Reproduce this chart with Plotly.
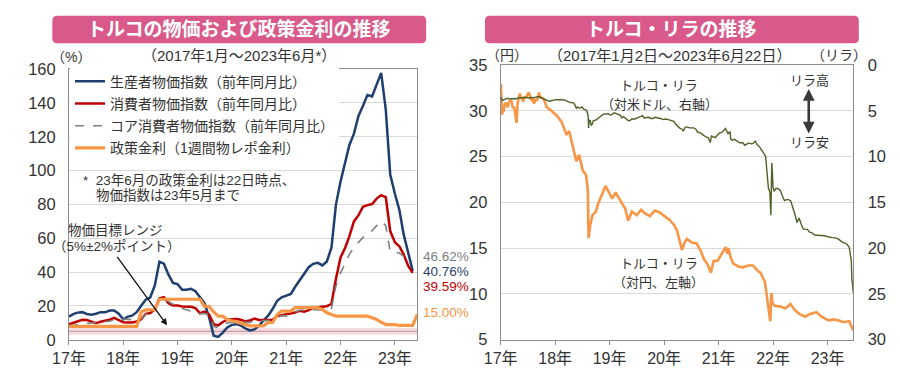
import plotly.graph_objects as go
import pandas as pd

# ---------------- data: left chart (monthly, % YoY) ----------------
months_idx = pd.date_range("2017-01-01", periods=77, freq="MS")   # 2017-01 .. 2023-05
months_rate = pd.date_range("2017-01-01", periods=78, freq="MS")  # 2017-01 .. 2023-06

ppi = [13.69, 15.36, 16.09, 16.37, 15.26, 14.87, 15.45, 16.34, 16.28, 17.28, 17.30, 15.47,
       12.14, 13.71, 14.28, 16.37, 20.16, 23.71, 25.00, 32.13, 46.15, 45.01, 38.54, 33.64,
       32.93, 29.63, 29.64, 30.12, 28.71, 25.04, 21.66, 13.45, 2.45, 1.70, 4.26, 7.36,
       8.84, 9.26, 8.50, 6.71, 5.53, 6.17, 8.33, 11.53, 14.33, 18.20, 23.11, 25.15,
       26.16, 27.09, 31.20, 35.17, 38.33, 42.89, 44.92, 45.52, 43.96, 46.31, 54.62, 79.89,
       93.53, 105.01, 114.97, 121.82, 132.16, 138.31, 144.61, 143.75, 151.50, 157.69, 136.02, 97.72,
       86.46, 76.61, 62.45, 52.11, 40.76]

cpi = [9.22, 10.13, 11.29, 11.87, 11.72, 10.90, 9.79, 10.68, 11.20, 11.90, 12.98, 11.92,
       10.35, 10.26, 10.23, 10.85, 12.15, 15.39, 15.85, 17.90, 24.52, 25.24, 21.62, 20.30,
       20.35, 19.67, 19.71, 19.50, 18.71, 15.72, 16.65, 15.01, 9.26, 8.55, 10.56, 11.84,
       12.15, 12.37, 11.86, 10.94, 11.39, 12.62, 11.76, 11.77, 11.75, 11.89, 14.03, 14.60,
       14.97, 15.61, 16.19, 17.14, 16.59, 17.53, 18.95, 19.25, 19.58, 19.89, 21.31, 36.08,
       48.69, 54.44, 61.14, 69.97, 73.50, 78.62, 79.60, 80.21, 83.45, 85.51, 84.39, 64.27,
       57.68, 55.18, 50.51, 43.68, 39.59]

core = [8.1, 8.8, 9.1, 9.4, 9.7, 9.9, 10.3, 10.5, 10.8, 11.0, 12.1, 12.3,
        12.3, 12.1, 11.9, 12.2, 12.6, 15.0, 15.9, 17.9, 24.1, 24.3, 22.6, 20.7,
        19.4, 18.5, 17.8, 16.9, 16.1, 15.5, 15.6, 14.9, 7.9, 7.3, 8.9, 9.9,
        10.4, 10.9, 10.5, 10.2, 10.3, 11.2, 11.2, 11.2, 11.5, 11.7, 13.0, 14.4,
        14.0, 15.1, 16.4, 17.5, 17.6, 17.5, 17.9, 17.6, 17.9, 18.3, 18.6, 31.9,
        39.5, 45.0, 50.5, 54.5, 57.5, 60.5, 62.5, 64.5, 67.5, 70.2, 67.5, 52.0,
        51.6, 51.3, 49.3, 47.6, 46.62]

policy = [8, 8, 8, 8, 8, 8, 8, 8, 8, 8, 8, 8,
          8, 8, 8, 8, 16.5, 17.75, 17.75, 17.75, 24, 24, 24, 24,
          24, 24, 24, 24, 24, 24, 19.75, 19.75, 16.5, 14, 14, 12,
          11.25, 10.75, 9.75, 8.75, 8.25, 8.25, 8.25, 8.25, 10.25, 10.25, 15, 17,
          17, 17, 19, 19, 19, 19, 19, 19, 18, 16, 15, 14,
          14, 14, 14, 14, 14, 14, 14, 13, 12, 10.5, 9, 9,
          9, 8.5, 8.5, 8.5, 8.5, 15]

target_low, target_mid, target_high = 3, 5, 7
year_ticks = ["2017-01-01", "2018-01-01", "2019-01-01", "2020-01-01",
              "2021-01-01", "2022-01-01", "2023-01-01"]
year_labels = ["17年", "18年", "19年", "20年", "21年", "22年", "23年"]

# ---------------- data: right chart (TRY/JPY left axis, USD/TRY right axis) ----------------
jpy_dates = ["2017-01-02", "2017-01-06", "2017-01-11", "2017-01-16", "2017-01-20", "2017-01-27",
             "2017-02-03", "2017-02-10", "2017-02-17", "2017-02-24", "2017-03-03", "2017-03-10",
             "2017-03-17", "2017-03-24", "2017-03-31", "2017-04-07", "2017-04-14", "2017-04-18",
             "2017-04-24", "2017-05-01", "2017-05-10", "2017-05-17", "2017-05-24", "2017-06-01",
             "2017-06-09", "2017-06-16", "2017-06-23", "2017-06-30", "2017-07-07", "2017-07-14",
             "2017-07-21", "2017-07-28", "2017-08-04", "2017-08-11", "2017-08-18", "2017-08-25",
             "2017-09-01", "2017-09-08", "2017-09-15", "2017-09-22", "2017-09-29", "2017-10-16",
             "2017-11-06", "2017-12-08", "2018-01-11", "2018-02-13", "2018-03-18", "2018-04-05",
             "2018-05-01", "2018-05-23", "2018-06-10", "2018-07-05", "2018-07-27", "2018-08-08",
             "2018-08-13", "2018-08-24", "2018-09-08", "2018-10-01", "2018-10-19", "2018-11-13",
             "2018-12-05", "2018-12-24", "2019-01-19", "2019-02-10", "2019-02-28", "2019-03-26",
             "2019-04-16", "2019-05-05", "2019-05-30", "2019-07-02", "2019-07-31", "2019-08-26",
             "2019-09-28", "2019-10-31", "2019-12-03", "2020-01-04", "2020-02-06", "2020-03-10",
             "2020-03-28", "2020-04-30", "2020-05-18", "2020-06-02", "2020-07-05", "2020-08-07",
             "2020-09-05", "2020-09-24", "2020-10-19", "2020-11-10", "2020-11-28", "2020-12-24",
             "2021-01-19", "2021-02-17", "2021-02-28", "2021-03-07", "2021-03-22", "2021-04-09",
             "2021-05-12", "2021-06-14", "2021-07-17", "2021-08-19", "2021-09-21", "2021-10-09",
             "2021-11-07", "2021-11-25", "2021-12-13", "2021-12-20", "2021-12-28", "2022-01-11",
             "2022-02-21", "2022-03-25", "2022-04-27", "2022-05-23", "2022-06-25", "2022-08-04",
             "2022-09-06", "2022-10-19", "2022-11-21", "2023-01-08", "2023-02-10", "2023-03-14",
             "2023-04-16", "2023-05-26", "2023-06-07", "2023-06-22"]
try_jpy = [33.0, 32.0, 29.6, 30.3, 29.9, 30.6,
           30.9, 30.7, 30.4, 30.9, 31.2, 31.3,
           30.9, 30.3, 30.5, 29.9, 29.2, 28.7,
           30.8, 31.4, 31.9, 31.3, 31.5, 31.0,
           31.6, 31.4, 31.6, 31.9, 32.0, 31.8,
           31.3, 31.2, 31.4, 30.8, 31.2, 31.3,
           31.1, 31.7, 32.0, 31.5, 31.5, 31.3,
           30.4, 30.0, 29.5, 28.8, 27.4, 27.8,
           26.0, 24.5, 25.2, 23.5, 23.0, 21.4,
           16.1, 17.5, 18.6, 19.0, 20.0, 21.0,
           21.8, 21.2, 20.4, 21.1, 20.6, 20.0,
           19.3, 18.0, 19.0, 18.6, 19.2, 18.8,
           18.5, 19.1, 18.9, 18.5, 18.1, 17.5,
           16.9, 14.8, 15.6, 16.0, 15.6, 15.5,
           14.6, 13.8, 13.2, 12.3, 13.6, 13.6,
           14.3, 15.1, 14.4, 15.0, 14.0, 13.3,
           13.0, 12.9, 13.1, 13.1, 12.5, 12.3,
           11.3, 9.2, 7.0, 10.1, 9.0, 8.7,
           8.6, 8.4, 8.9, 8.3, 7.8, 7.5,
           7.8, 8.0, 7.5, 7.1, 7.2, 7.1,
           6.9, 7.0, 6.5, 6.0]

usd_dates = ["2017-01-02", "2017-01-11", "2017-01-20", "2017-02-03", "2017-02-17", "2017-03-03",
             "2017-03-17", "2017-03-31", "2017-04-14", "2017-04-28", "2017-05-12", "2017-05-26",
             "2017-06-09", "2017-06-23", "2017-07-07", "2017-07-21", "2017-08-04", "2017-08-18",
             "2017-09-01", "2017-09-15", "2017-09-29", "2017-10-13", "2017-10-27", "2017-11-10",
             "2017-11-24", "2017-12-08", "2017-12-22", "2018-01-05", "2018-01-19", "2018-02-02",
             "2018-02-16", "2018-03-02", "2018-03-16", "2018-03-30", "2018-04-13", "2018-04-27",
             "2018-05-11", "2018-05-23", "2018-06-01", "2018-06-15", "2018-06-29", "2018-07-13",
             "2018-07-27", "2018-08-03", "2018-08-10", "2018-08-13", "2018-08-17", "2018-08-24",
             "2018-08-31", "2018-09-07", "2018-09-14", "2018-09-28", "2018-10-12", "2018-10-26",
             "2018-11-09", "2018-11-23", "2018-12-07", "2018-12-21", "2019-01-04", "2019-01-18",
             "2019-02-01", "2019-02-15", "2019-03-01", "2019-03-15", "2019-03-22", "2019-04-05",
             "2019-04-19", "2019-05-03", "2019-05-17", "2019-05-31", "2019-06-14", "2019-06-28",
             "2019-07-12", "2019-07-26", "2019-08-09", "2019-08-23", "2019-09-06", "2019-09-20",
             "2019-10-04", "2019-10-18", "2019-11-01", "2019-11-15", "2019-11-29", "2019-12-13",
             "2019-12-27", "2020-01-10", "2020-01-24", "2020-02-07", "2020-02-21", "2020-03-06",
             "2020-03-20", "2020-04-03", "2020-04-17", "2020-05-01", "2020-05-08", "2020-05-22",
             "2020-06-05", "2020-06-19", "2020-07-03", "2020-07-17", "2020-07-31", "2020-08-14",
             "2020-08-28", "2020-09-11", "2020-09-25", "2020-10-09", "2020-10-23", "2020-11-06",
             "2020-11-13", "2020-11-27", "2020-12-11", "2020-12-25", "2021-01-08", "2021-01-22",
             "2021-02-05", "2021-02-16", "2021-03-05", "2021-03-19", "2021-03-22", "2021-04-02",
             "2021-04-16", "2021-04-30", "2021-05-14", "2021-05-28", "2021-06-11", "2021-06-25",
             "2021-07-09", "2021-07-23", "2021-08-06", "2021-08-20", "2021-09-03", "2021-09-17",
             "2021-10-01", "2021-10-15", "2021-10-29", "2021-11-12", "2021-11-23", "2021-11-30",
             "2021-12-10", "2021-12-17", "2021-12-21", "2021-12-23", "2021-12-28", "2021-12-31",
             "2022-01-07", "2022-01-21", "2022-02-04", "2022-02-18", "2022-03-04", "2022-03-18",
             "2022-04-01", "2022-04-15", "2022-04-29", "2022-05-13", "2022-05-27", "2022-06-10",
             "2022-06-24", "2022-07-08", "2022-07-22", "2022-08-05", "2022-08-19", "2022-09-02",
             "2022-09-16", "2022-09-30", "2022-10-14", "2022-10-28", "2022-11-11", "2022-11-25",
             "2022-12-09", "2022-12-23", "2023-01-06", "2023-01-20", "2023-02-03", "2023-02-17",
             "2023-03-03", "2023-03-17", "2023-03-31", "2023-04-14", "2023-04-28", "2023-05-12",
             "2023-05-26", "2023-06-02", "2023-06-09", "2023-06-13", "2023-06-16", "2023-06-22"]
usd_try = [3.52, 3.85, 3.78, 3.70, 3.62, 3.68,
           3.62, 3.64, 3.70, 3.55, 3.58, 3.55,
           3.51, 3.52, 3.58, 3.53, 3.52, 3.54,
           3.44, 3.45, 3.57, 3.64, 3.82, 3.88,
           3.94, 3.87, 3.80, 3.77, 3.78, 3.74,
           3.76, 3.80, 3.92, 3.95, 4.09, 4.07,
           4.26, 4.70, 4.55, 4.71, 4.57, 4.83,
           4.88, 5.07, 5.55, 6.85, 6.02, 6.05,
           6.55, 6.45, 6.05, 6.02, 5.85, 5.58,
           5.47, 5.33, 5.35, 5.28, 5.45, 5.38,
           5.20, 5.30, 5.37, 5.47, 5.75, 5.62,
           5.82, 6.02, 6.08, 5.85, 5.90, 5.78,
           5.72, 5.62, 5.52, 5.80, 5.72, 5.70,
           5.82, 5.82, 5.70, 5.75, 5.75, 5.85,
           5.95, 5.88, 5.92, 5.98, 6.12, 6.15,
           6.50, 6.75, 6.90, 7.00, 7.20, 6.80,
           6.75, 6.85, 6.85, 6.85, 6.97, 7.35,
           7.35, 7.48, 7.70, 7.85, 7.95, 8.45,
           7.75, 7.85, 7.90, 7.60, 7.40, 7.35,
           7.10, 6.92, 7.50, 7.25, 8.05, 8.20,
           8.10, 8.30, 8.40, 8.50, 8.45, 8.75,
           8.65, 8.50, 8.60, 8.55, 8.30, 8.70,
           8.90, 9.20, 9.60, 10.00, 12.40, 13.40,
           13.90, 16.40, 12.50, 10.70, 12.00, 13.30,
           13.80, 13.45, 13.50, 13.70, 14.30, 14.80,
           14.70, 14.70, 14.85, 15.50, 16.30, 17.20,
           16.70, 17.40, 17.90, 17.95, 17.95, 18.25,
           18.30, 18.50, 18.60, 18.60, 18.60, 18.65,
           18.65, 18.70, 18.80, 18.82, 18.85, 18.87,
           18.90, 19.05, 19.20, 19.40, 19.45, 19.60,
           19.90, 20.80, 21.40, 23.50, 23.70, 24.90]

# ---------------- styling ----------------
W, H = 900, 380
FONT = "Liberation Sans, Noto Sans CJK JP, sans-serif"
TXT = "#333333"
GRID = "#d9d9d9"
AXLINE = "#8c8c8c"
NAVY = "#1f3f6e"
RED = "#c00000"
GRAY = "#808080"
ORANGE = "#f79646"
OLIVE = "#4f6228"
PINK = "#d9598a"


def X(px):
    return px / W


def Y(py):
    return 1 - py / H


fig = go.Figure()

fig.add_trace(go.Scatter(x=months_idx, y=ppi, mode="lines", name="生産者物価指数（前年同月比）",
                         line=dict(color=NAVY, width=2.5), legendgroup="a",
                         xaxis="x", yaxis="y"))
fig.add_trace(go.Scatter(x=months_idx, y=cpi, mode="lines", name="消費者物価指数（前年同月比）",
                         line=dict(color=RED, width=2.5), legendgroup="b",
                         xaxis="x", yaxis="y"))
fig.add_trace(go.Scatter(x=months_idx, y=core, mode="lines", name="コア消費者物価指数（前年同月比）",
                         line=dict(color=GRAY, width=1.6, dash="dash"), legendgroup="c",
                         xaxis="x", yaxis="y"))
fig.add_trace(go.Scatter(x=months_rate, y=policy, mode="lines", name="政策金利（1週間物レポ金利）",
                         line=dict(color=ORANGE, width=3.2), legendgroup="d",
                         xaxis="x", yaxis="y"))

fig.add_trace(go.Scatter(x=usd_dates, y=usd_try, mode="lines", showlegend=False,
                         line=dict(color=OLIVE, width=1.4), xaxis="x2", yaxis="y3"))
fig.add_trace(go.Scatter(x=jpy_dates, y=try_jpy, mode="lines", showlegend=False,
                         line=dict(color=ORANGE, width=2.6), xaxis="x2", yaxis="y2"))

shapes = []
# target band on the left chart
shapes.append(dict(type="rect", xref="x", yref="y", x0="2017-01-01", x1="2023-06-01",
                   y0=target_low, y1=target_high, fillcolor="#f5dadf",
                   line=dict(width=0), layer="below"))
shapes.append(dict(type="line", xref="x", yref="y", x0="2017-01-01", x1="2023-06-01",
                   y0=target_mid, y1=target_mid, line=dict(color="#c4a3aa", width=1.2),
                   layer="below"))


def rounded(x0, y0, x1, y1, r=5):
    p = [f"M {X(x0 + r)},{Y(y0)}", f"L {X(x1 - r)},{Y(y0)}",
         f"Q {X(x1)},{Y(y0)} {X(x1)},{Y(y0 + r)}", f"L {X(x1)},{Y(y1 - r)}",
         f"Q {X(x1)},{Y(y1)} {X(x1 - r)},{Y(y1)}", f"L {X(x0 + r)},{Y(y1)}",
         f"Q {X(x0)},{Y(y1)} {X(x0)},{Y(y1 - r)}", f"L {X(x0)},{Y(y0 + r)}",
         f"Q {X(x0)},{Y(y0)} {X(x0 + r)},{Y(y0)}", "Z"]
    return " ".join(p)


for bx0, bx1 in [(36, 417), (477, 858)]:
    shapes.append(dict(type="path", xref="paper", yref="paper", path=rounded(bx0, 7, bx1, 36),
                       fillcolor=PINK, line=dict(width=0), layer="below"))

ann = []


def txt(px, py, s, size=14, color=TXT, anchor="center", bold=False):
    ann.append(dict(x=X(px), y=Y(py), xref="paper", yref="paper", text=f"<b>{s}</b>" if bold else s,
                    showarrow=False, xanchor=anchor, yanchor="middle",
                    font=dict(family=FONT, size=size, color=color)))


txt(226.5, 21.5, "トルコの物価および政策金利の推移", size=19, color="white", bold=True)
txt(667.5, 21.5, "トルコ・リラの推移", size=19, color="white", bold=True)
txt(226, 49, "（2017年1月～2023年6月*）", size=15)
txt(55, 50, "（%）", size=14)
txt(665, 49, "（2017年1月2日～2023年6月22日）", size=15)
txt(499, 48, "（円）", size=14)
txt(838, 48, "（リラ）", size=14)

txt(65, 179, "*&nbsp;&nbsp;23年6月の政策金利は22日時点、", size=13.5, anchor="left")
txt(78, 196, "物価指数は23年5月まで", size=13.5, anchor="left")

txt(100, 232, "物価目標レンジ", size=13.5)
txt(101, 249, "（5%±2%ポイント）", size=13.5)

txt(412, 260, "46.62%", size=13.5, color=GRAY, anchor="left")
txt(412, 276, "40.76%", size=13.5, color=NAVY, anchor="left")
txt(412, 291, "39.59%", size=13.5, color=RED, anchor="left")
txt(412, 319, "15.00%", size=13.5, color=ORANGE, anchor="left")

txt(654, 80, "トルコ・リラ", size=13)
txt(655, 100, "（対米ドル、右軸）", size=13)
txt(654, 267, "トルコ・リラ", size=13)
txt(654, 287, "（対円、左軸）", size=13)
txt(808, 75, "リラ高", size=13)
txt(808, 140, "リラ安", size=13)

# arrows
ann.append(dict(x=X(153), y=Y(332), xref="paper", yref="paper", ax=-51, ay=-70,
                text="", showarrow=True, arrowhead=2, arrowsize=1, arrowwidth=1.3,
                arrowcolor="#111111"))
ann.append(dict(x=X(807), y=Y(84), xref="paper", yref="paper", ax=0, ay=46,
                text="", showarrow=True, arrowhead=2, arrowsize=0.9, arrowwidth=2.6,
                arrowside="end+start", arrowcolor="#3a3a3a"))

tickfont = dict(family=FONT, size=16.5, color=TXT)
xcommon = dict(type="date", tickmode="array", tickvals=year_ticks, ticktext=year_labels,
               ticks="outside", ticklen=4, tickcolor=AXLINE, showline=True, linecolor=AXLINE,
               mirror=True, showgrid=False,
               tickfont=dict(family=FONT, size=16, color=TXT))

fig.update_layout(
    width=W, height=H, margin=dict(l=0, r=0, t=0, b=0),
    paper_bgcolor="white", plot_bgcolor="white",
    font=dict(family=FONT, color=TXT),
    xaxis=dict(domain=[X(53), X(408)], range=["2017-01-01", "2023-06-01"], anchor="y", **xcommon),
    yaxis=dict(domain=[Y(347.3), Y(63)], range=[0, 160], dtick=20, tick0=0,
               showgrid=True, gridcolor=GRID, showline=True, linecolor=AXLINE, mirror=True,
               zeroline=False, ticks="", tickfont=tickfont, ticklabelstandoff=9, anchor="x"),
    xaxis2=dict(domain=[X(493), X(852.5)], range=["2017-01-01", "2023-06-23"], anchor="y2", **xcommon),
    yaxis2=dict(domain=[Y(347), Y(59)], range=[5, 35], dtick=5, tick0=0,
                showgrid=True, gridcolor=GRID, showline=True, linecolor=AXLINE, mirror=True,
                zeroline=False, ticks="", tickfont=tickfont, ticklabelstandoff=9, anchor="x2"),
    yaxis3=dict(overlaying="y2", side="right", anchor="x2", range=[30, 0], dtick=5, tick0=0,
                showgrid=False, showline=True, linecolor=AXLINE, zeroline=False, ticks="",
                tickfont=tickfont, ticklabelstandoff=10),
    legend=dict(x=X(54), y=Y(111), xanchor="left", yanchor="middle", bgcolor="white",
                borderwidth=0, font=dict(family=FONT, size=14, color=TXT),
                tracegroupgap=1, itemwidth=30),
    shapes=shapes,
    annotations=ann,
)

fig.write_html("out.html", config={"displayModeBar": False},
               post_script="document.body.style.margin='0px';")
